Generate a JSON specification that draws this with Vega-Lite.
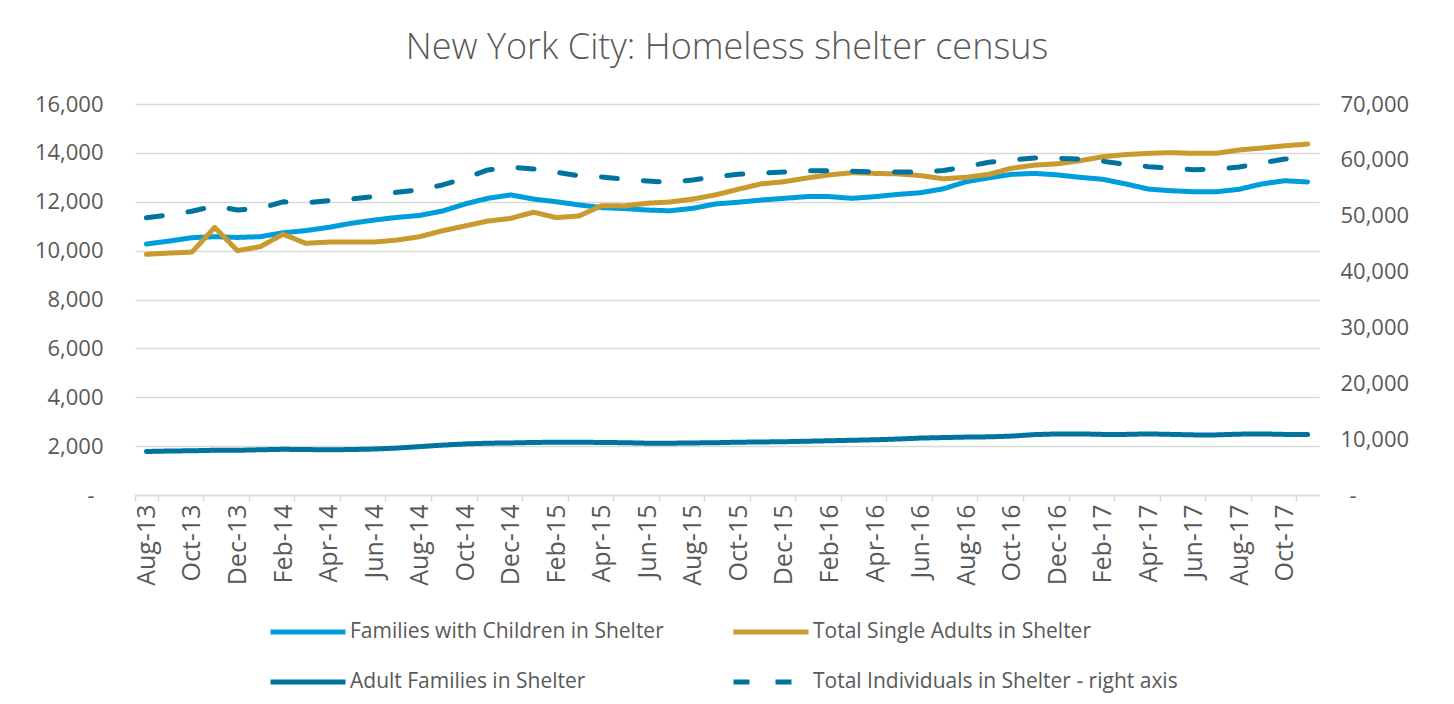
{
  "$schema": "https://vega.github.io/schema/vega-lite/v6.json",
  "width": 1184,
  "height": 391,
  "autosize": {"type": "none"},
  "padding": {"left": 135, "top": 104, "right": 135, "bottom": 209},
  "background": "white",
  "title": {"text": "New York City: Homeless shelter census", "font": "Open Sans", "fontSize": 36, "fontWeight": 300, "color": "#595959", "anchor": "middle", "frame": "group", "baseline": "alphabetic", "offset": -2},
  "config": {"font": "Open Sans", "view": {"stroke": null}},
  "data": {"values": [
    {"m":"Aug-13","F":10270,"S":9850,"A":1780,"T":49650},
    {"m":"Sep-13","F":10390,"S":9900,"A":1800,"T":50130},
    {"m":"Oct-13","F":10530,"S":9940,"A":1810,"T":50800},
    {"m":"Nov-13","F":10570,"S":10950,"A":1830,"T":51740},
    {"m":"Dec-13","F":10540,"S":10000,"A":1830,"T":51020},
    {"m":"Jan-14","F":10570,"S":10160,"A":1850,"T":51330},
    {"m":"Feb-14","F":10730,"S":10670,"A":1870,"T":52480},
    {"m":"Mar-14","F":10820,"S":10300,"A":1860,"T":52330},
    {"m":"Apr-14","F":10950,"S":10350,"A":1850,"T":52700},
    {"m":"May-14","F":11120,"S":10350,"A":1860,"T":53000},
    {"m":"Jun-14","F":11250,"S":10350,"A":1880,"T":53410},
    {"m":"Jul-14","F":11360,"S":10430,"A":1920,"T":54200},
    {"m":"Aug-14","F":11440,"S":10570,"A":1980,"T":54610},
    {"m":"Sep-14","F":11620,"S":10810,"A":2040,"T":55510},
    {"m":"Oct-14","F":11910,"S":11010,"A":2090,"T":56710},
    {"m":"Nov-14","F":12140,"S":11210,"A":2120,"T":58190},
    {"m":"Dec-14","F":12280,"S":11320,"A":2130,"T":58680},
    {"m":"Jan-15","F":12110,"S":11570,"A":2150,"T":58370},
    {"m":"Feb-15","F":12000,"S":11350,"A":2160,"T":57770},
    {"m":"Mar-15","F":11870,"S":11420,"A":2160,"T":57170},
    {"m":"Apr-15","F":11760,"S":11840,"A":2150,"T":56940},
    {"m":"May-15","F":11720,"S":11830,"A":2140,"T":56520},
    {"m":"Jun-15","F":11660,"S":11940,"A":2120,"T":56220},
    {"m":"Jul-15","F":11630,"S":11990,"A":2120,"T":55980},
    {"m":"Aug-15","F":11730,"S":12110,"A":2130,"T":56400},
    {"m":"Sep-15","F":11910,"S":12280,"A":2140,"T":56990},
    {"m":"Oct-15","F":11980,"S":12510,"A":2160,"T":57420},
    {"m":"Nov-15","F":12070,"S":12730,"A":2170,"T":57650},
    {"m":"Dec-15","F":12140,"S":12820,"A":2180,"T":57830},
    {"m":"Jan-16","F":12210,"S":12970,"A":2200,"T":58060},
    {"m":"Feb-16","F":12210,"S":13100,"A":2220,"T":58060},
    {"m":"Mar-16","F":12140,"S":13190,"A":2240,"T":57950},
    {"m":"Apr-16","F":12210,"S":13160,"A":2260,"T":57830},
    {"m":"May-16","F":12300,"S":13140,"A":2290,"T":57830},
    {"m":"Jun-16","F":12370,"S":13070,"A":2330,"T":57830},
    {"m":"Jul-16","F":12530,"S":12940,"A":2350,"T":58100},
    {"m":"Aug-16","F":12820,"S":13000,"A":2370,"T":58780},
    {"m":"Sep-16","F":12980,"S":13120,"A":2380,"T":59570},
    {"m":"Oct-16","F":13120,"S":13370,"A":2410,"T":59980},
    {"m":"Nov-16","F":13160,"S":13500,"A":2470,"T":60340},
    {"m":"Dec-16","F":13100,"S":13550,"A":2500,"T":60280},
    {"m":"Jan-17","F":13000,"S":13680,"A":2500,"T":60160},
    {"m":"Feb-17","F":12920,"S":13840,"A":2480,"T":59750},
    {"m":"Mar-17","F":12730,"S":13930,"A":2480,"T":59210},
    {"m":"Apr-17","F":12520,"S":13980,"A":2500,"T":58780},
    {"m":"May-17","F":12450,"S":14010,"A":2480,"T":58490},
    {"m":"Jun-17","F":12410,"S":13980,"A":2460,"T":58240},
    {"m":"Jul-17","F":12410,"S":13980,"A":2460,"T":58310},
    {"m":"Aug-17","F":12510,"S":14120,"A":2490,"T":58730},
    {"m":"Sep-17","F":12730,"S":14200,"A":2500,"T":59440},
    {"m":"Oct-17","F":12860,"S":14290,"A":2480,"T":60160},
    {"m":"Nov-17","F":12810,"S":14360,"A":2480,"T":60350}
  ]},
  "transform": [{"fold": ["F", "S", "A", "T"], "as": ["s", "v"]}],
  "encoding": {
    "x": {
      "field": "m", "type": "ordinal", "bandPosition": 0.5,
      "scale": {"type": "band", "paddingInner": 0, "paddingOuter": 0, "domain": ["Aug-13","Sep-13","Oct-13","Nov-13","Dec-13","Jan-14","Feb-14","Mar-14","Apr-14","May-14","Jun-14","Jul-14","Aug-14","Sep-14","Oct-14","Nov-14","Dec-14","Jan-15","Feb-15","Mar-15","Apr-15","May-15","Jun-15","Jul-15","Aug-15","Sep-15","Oct-15","Nov-15","Dec-15","Jan-16","Feb-16","Mar-16","Apr-16","May-16","Jun-16","Jul-16","Aug-16","Sep-16","Oct-16","Nov-16","Dec-16","Jan-17","Feb-17","Mar-17","Apr-17","May-17","Jun-17","Jul-17","Aug-17","Sep-17","Oct-17","Nov-17"]},
      "axis": {"title": null, "values": ["Aug-13","Oct-13","Dec-13","Feb-14","Apr-14","Jun-14","Aug-14","Oct-14","Dec-14","Feb-15","Apr-15","Jun-15","Aug-15","Oct-15","Dec-15","Feb-16","Apr-16","Jun-16","Aug-16","Oct-16","Dec-16","Feb-17","Apr-17","Jun-17","Aug-17","Oct-17"], "labelAngle": -90, "tickBand": "extent", "grid": false, "tickColor": "#D9D9D9", "tickWidth": 1.5, "tickSize": 6, "domainColor": "#D9D9D9", "domainWidth": 1.5, "labelFont": "Open Sans", "labelFontSize": 25, "labelColor": "#595959", "labelPadding": 3}
    },
    "color": {
      "field": "s", "type": "nominal",
      "scale": {"domain": ["F", "S", "A", "T"], "range": ["#009DDC", "#C99A2E", "#00739F", "#00739F"]},
      "legend": {"title": null, "orient": "none", "direction": "horizontal", "legendX": 133, "legendY": 488, "columns": 2, "columnPadding": 59, "rowPadding": -12, "symbolType": "stroke", "symbolSize": 5625, "symbolStrokeWidth": 5, "labelFont": "Open Sans", "labelFontSize": 21, "labelColor": "#595959", "labelOffset": 2, "labelLimit": 0, "labelExpr": "datum.label == 'F' ? 'Families with Children in Shelter' : datum.label == 'S' ? 'Total Single Adults in Shelter' : datum.label == 'A' ? 'Adult Families in Shelter' : 'Total Individuals in Shelter - right axis'"}
    },
    "strokeDash": {
      "field": "s", "type": "nominal",
      "scale": {"domain": ["F", "S", "A", "T"], "range": [[1, 0], [1, 0], [1, 0], [16, 26]]},
      "legend": {"title": null, "orient": "none", "direction": "horizontal", "legendX": 133, "legendY": 488, "columns": 2, "columnPadding": 59, "rowPadding": -12, "symbolType": "stroke", "symbolSize": 5625, "symbolStrokeWidth": 5, "labelFont": "Open Sans", "labelFontSize": 21, "labelColor": "#595959", "labelOffset": 2, "labelLimit": 0, "labelExpr": "datum.label == 'F' ? 'Families with Children in Shelter' : datum.label == 'S' ? 'Total Single Adults in Shelter' : datum.label == 'A' ? 'Adult Families in Shelter' : 'Total Individuals in Shelter - right axis'"}
    }
  },
  "layer": [
    {
      "transform": [{"filter": "datum.s != 'T'"}],
      "mark": {"type": "line", "strokeWidth": 5, "strokeCap": "round", "strokeJoin": "round"},
      "encoding": {
        "y": {"field": "v", "type": "quantitative", "scale": {"domain": [0, 16000], "nice": false},
          "axis": {"title": null, "values": [0, 2000, 4000, 6000, 8000, 10000, 12000, 14000, 16000], "grid": true, "gridColor": "#D9D9D9", "gridWidth": 1.5, "domain": false, "ticks": false, "labelPadding": {"condition": {"test": "datum.value == 0", "value": 41}, "value": 32}, "labelFont": "Open Sans", "labelFontSize": 22, "labelColor": "#595959", "labelExpr": "datum.value == 0 ? '-' : format(datum.value, ',')"}}
      }
    },
    {
      "transform": [{"filter": "datum.s == 'T'"}],
      "mark": {"type": "line", "strokeWidth": 5, "strokeCap": "round", "strokeJoin": "round"},
      "encoding": {
        "y": {"field": "v", "type": "quantitative", "scale": {"domain": [0, 70000], "nice": false},
          "axis": {"title": null, "orient": "right", "values": [0, 10000, 20000, 30000, 40000, 50000, 60000, 70000], "grid": false, "domain": false, "ticks": false, "labelPadding": {"condition": {"test": "datum.value == 0", "value": 30}, "value": 21}, "labelFont": "Open Sans", "labelFontSize": 22, "labelColor": "#595959", "labelExpr": "datum.value == 0 ? '-' : format(datum.value, ',')"}}
      }
    }
  ],
  "resolve": {"scale": {"y": "independent"}}
}
